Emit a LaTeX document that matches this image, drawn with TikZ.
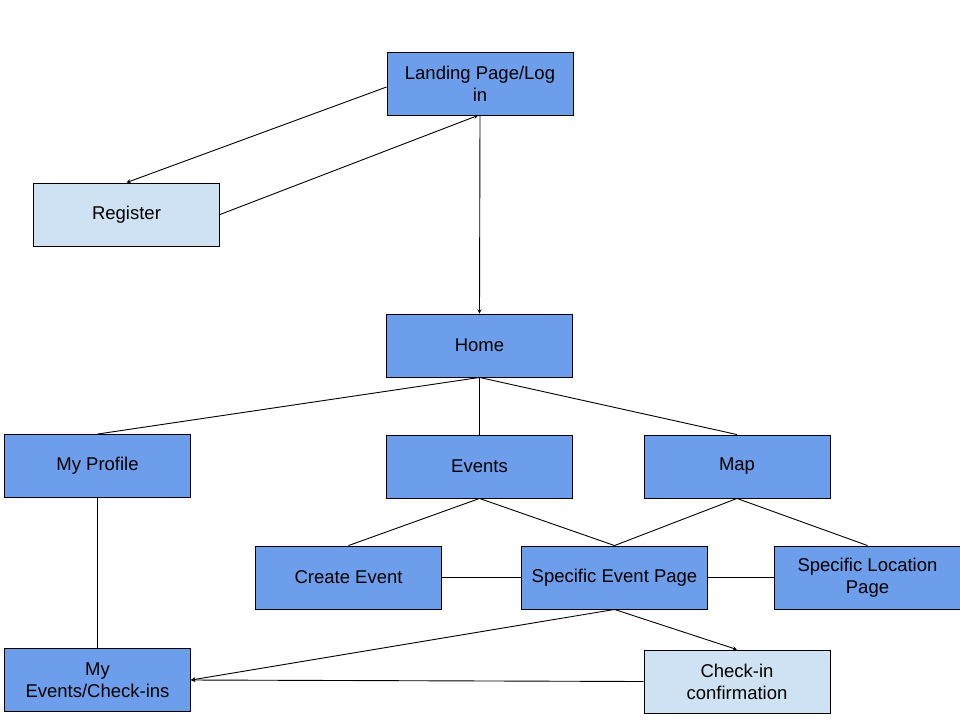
\documentclass[tikz,border=0pt]{standalone}
\usepackage{fontspec}
\setmainfont{Liberation Sans}
\usepackage{tikz}
\usetikzlibrary{calc,positioning,arrows}
\definecolor{pagebox}{HTML}{6D9EEB}
\definecolor{pagelight}{HTML}{CFE2F3}
\tikzstyle{page}=[rectangle,draw=black,fill=pagebox,line width=0.9pt,
  minimum width=186pt,minimum height=63pt,inner sep=0,align=center,
  font=\fontsize{18.5}{22}\selectfont]
\tikzstyle{lightpage}=[page,fill=pagelight]
\tikzstyle{nav}=[>=stealth,->,line width=0.9pt]
\tikzstyle{link}=[line width=0.9pt]

\begin{document}
\begin{tikzpicture}[x=1pt,y=-1pt]
    \useasboundingbox (0,0) rectangle (960,720);

    % login part
    \node [page] (landing) at (480,83.5) {Landing Page/Log\\in};
    \node [lightpage] (register) at (126.5,214.5) {Register};
    \node [page] (home) at (479.5,345.5) {Home};

    % second level
    \node [page] (profile) at (97.5,466) {My Profile};
    \node [page] (events) at (479.5,466.5) {Events};
    \node [page] (map) at (737,466.5) {Map};

    % third level
    \node [page] (create) at (348.5,577.5) {Create Event};
    \node [page] (eventpage) at (614.5,577.5) {Specific Event Page};
    \node [page] (locpage) at (867.5,577.5) {Specific Location\\Page};

    % bottom
    \node [page] (myevents) at (97.5,680) {My\\Events/Check-ins};
    \node [lightpage] (checkin) at (737,681.5) {Check-in\\confirmation};

    \draw [nav] (landing.west |- 0,87) -- (register.north);
    \draw [nav] (register.east) -- ($(landing.south)+(-2,0)$);
    \draw [nav] (landing.south) -- (home.north);

    \draw [link] (home.south) -- (profile.north);
    \draw [link] (home.south) -- (events.north);
    \draw [link] (home.south) -- (map.north);
    \draw [link] (events.south) -- (create.north);
    \draw [link] (events.south) -- (eventpage.north);
    \draw [link] (map.south) -- (eventpage.north);
    \draw [link] (map.south) -- (locpage.north);
    \draw [link] (create.east) -- (eventpage.west);
    \draw [link] (eventpage.east) -- (locpage.west);
    \draw [link] (profile.south) -- (myevents.north);

    \draw [nav] (eventpage.south) -- (myevents.east);
    \draw [nav] (eventpage.south) -- (checkin.north);
    \draw [nav] (checkin.west) -- (myevents.east);
  \end{tikzpicture}
\end{document}
